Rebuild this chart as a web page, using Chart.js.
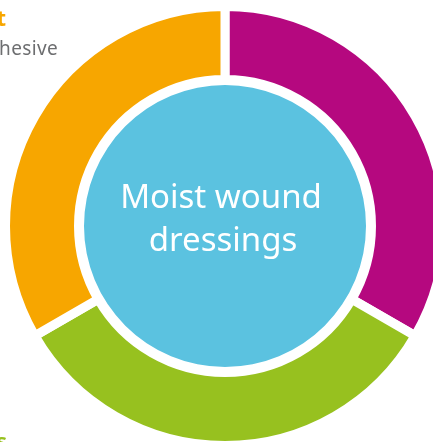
<!DOCTYPE html>
<html>
<head>
<meta charset="utf-8">
<script src="https://cdn.jsdelivr.net/npm/chart.js@4"></script>
<style>
  html, body { margin: 0; padding: 0; background: #fff; }
  body { width: 433px; height: 442px; overflow: hidden; position: relative; font-family: 'Noto Sans', sans-serif; }
  #chart { position: absolute; left: 0; top: 0; }
  .side { position: absolute; white-space: nowrap; line-height: normal; }
  #headTop { right: 427px; top: 1.5px; font-size: 22px; font-weight: bold; color: #f7a600; }
  #subTop { left: -1px; top: 34.5px; font-size: 19px; letter-spacing: 0.4px; color: #6d6e70; }
  #headBottom { right: 426px; top: 424.5px; font-size: 22px; font-weight: bold; color: #97c11f; }
</style>
</head>
<body>
<canvas id="chart" width="450" height="452"></canvas>
<div class="side" id="headTop">t</div>
<div class="side" id="subTop">hesive</div>
<div class="side" id="headBottom">s</div>
<script>
// --- Data ---
const ringLabels = ['Right', 'Bottom', 'Left'];
const ringValues = [1, 1, 1];
const ringColors = ['#b5087f', '#97c11f', '#f7a600'];
const centreLabel = ['Moist wound', 'dressings'];
const centreValue = [1];

// centre text drawn on top of the inner disc
const centreText = {
    id: 'centreText',
    afterDatasetsDraw(chart) {
        const arc = chart.getDatasetMeta(2).data[0];
        const ctx = chart.ctx;
        ctx.save();
        ctx.fillStyle = '#ffffff';
        ctx.font = '33px "Noto Sans"';
        ctx.textAlign = 'center';
        ctx.textBaseline = 'alphabetic';
        ctx.fillText(centreLabel[0], arc.x - 4, 208);
        ctx.fillText(centreLabel[1], arc.x - 2, 251);
        ctx.restore();
    }
};

new Chart(document.getElementById('chart'), {
    type: 'doughnut',
    data: {
        labels: ringLabels,
        datasets: [
            {
                data: ringValues,
                backgroundColor: ringColors,
                borderColor: '#ffffff',
                borderWidth: 9,
                borderJoinStyle: 'miter',
                weight: 73
            },
            {
                // white spacer between ring and disc
                data: centreValue,
                backgroundColor: 'rgba(255,255,255,0)',
                borderWidth: 0,
                weight: 5.5
            },
            {
                label: centreLabel.join(' '),
                data: centreValue,
                backgroundColor: '#5bc2e0',
                borderWidth: 0,
                weight: 141
            }
        ]
    },
    options: {
        responsive: false,
        animation: false,
        events: [],
        radius: 219.5,
        cutout: 0,
        layout: { padding: 0 },
        plugins: {
            legend: { display: false },
            tooltip: { enabled: false }
        }
    },
    plugins: [centreText]
});
</script>
</body>
</html>
